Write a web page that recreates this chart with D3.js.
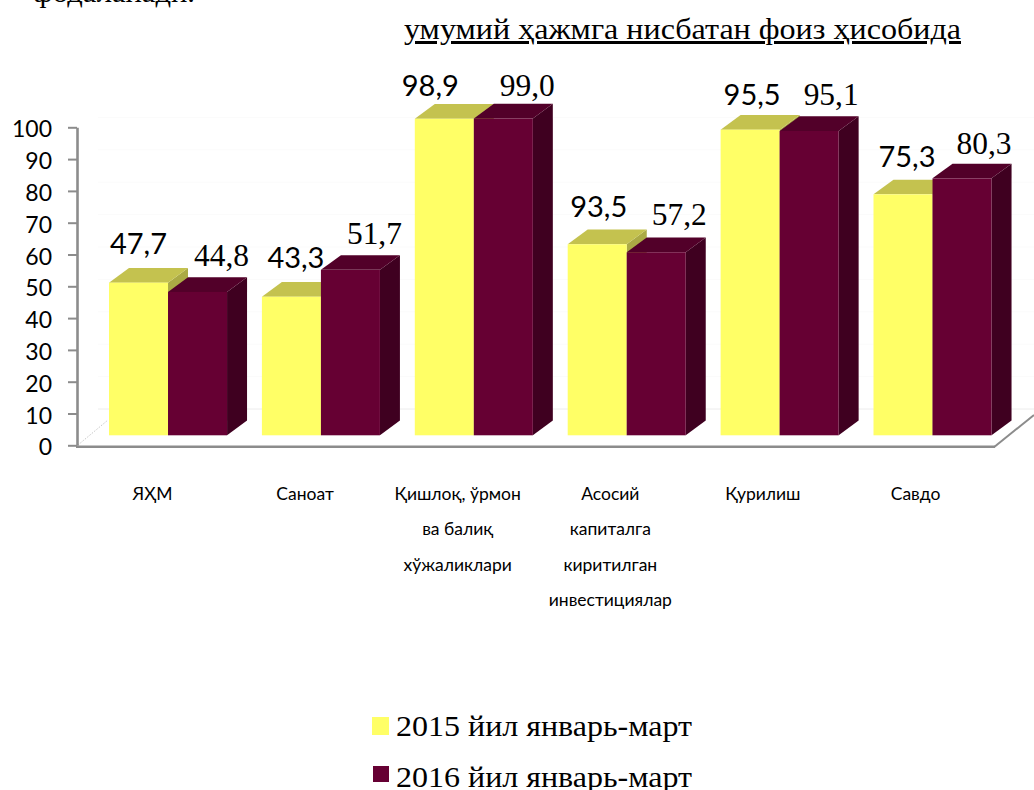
<!DOCTYPE html>
<html><head><meta charset="utf-8">
<script src="https://cdnjs.cloudflare.com/ajax/libs/d3/7.9.0/d3.min.js"></script>
<style>html,body{margin:0;padding:0;background:#fff;overflow:hidden}svg{display:block}</style>
</head><body><svg id="c" width="1034" height="790"></svg>
<script>
const categories = [["ЯҲМ"],["Саноат"],["Қишлоқ, ўрмон","ва балиқ","хўжаликлари"],["Асосий","капиталга","киритилган","инвестициялар"],["Қурилиш"],["Савдо"]];
const seriesNames = ["2015 йил январь-март","2016 йил январь-март"];
// bar heights as drawn
const values2015 = [47.7,43.3,98.9,59.7,95.5,75.3];
const values2016 = [44.8,51.7,99.0,57.2,95.1,80.3];
// printed labels (the fourth yellow bar is labelled 93,5 in the source)
const labels2015 = ["47,7","43,3","98,9","93,5","95,5","75,3"];
const labels2016 = ["44,8","51,7","99,0","57,2","95,1","80,3"];
const axisTicks = [0,10,20,30,40,50,60,70,80,90,100];
const gridTicks = [10,20,30,40,50,60,70,80,90,100];
const titleText = "умумий ҳажмга нисбатан фоиз ҳисобида";
const clippedText = "фодаланади.";

// layout
const nudge2015 = [[0,-29],[4.5,-29],[-14,-23],[1.5,-27],[2,-25],[4,-27]];
const nudge2016 = [[24,-26],[24,-26],[24,-23],[23,-27],[22,-26],[22,-24]];
const colors = {y:{front:"#FFFF66",top:"#C4C24F",side:"#ABAA45"},m:{front:"#660033",top:"#520029",side:"#3F0020"}};
const serif = "'Liberation Serif','Times New Roman',serif", sans = "Lato,'Noto Sans',sans-serif";
const depth = {x:20,y:-14.7};

const svg = d3.select("#c");
const x = d3.scaleBand().domain(d3.range(6)).range([91.57,1008.97]).paddingInner(.228).paddingOuter(.114);
const xs = d3.scaleBand().domain([0,1]).range([0,x.bandwidth()]);
const yBar = d3.scaleLinear().domain([0,100]).range([435.3,115.3]);
const yAxis = d3.scaleLinear().domain([0,100]).range([445.3,127.3]);
const yGrid = d3.scaleLinear().domain([0,100]).range([441.4,117.4]);

// back wall grid
svg.append("g").selectAll("line").data(gridTicks).join("line")
  .attr("x1",98).attr("x2",1034).attr("y1",d=>yGrid(d)).attr("y2",d=>yGrid(d))
  .attr("stroke",d=>d===10?"#ececec":"#fbfbfb").attr("stroke-width",1);
// floor
svg.append("path").attr("d",d3.line()([[78,445],[108,420]])).attr("stroke","#c8c8c8").attr("stroke-dasharray","1.5 1.5").attr("fill","none");
svg.append("path").attr("d",d3.line()([[994.5,446.7],[1034,415]])).attr("stroke","#8c8c8c").attr("stroke-width",2).attr("fill","none");
svg.append("line").attr("x1",76).attr("x2",995).attr("y1",446.7).attr("y2",446.7).attr("stroke","#8c8c8c").attr("stroke-width",2.6);
// value axis
const ax = svg.append("g").attr("transform","translate(77,0)")
  .call(d3.axisLeft(yAxis).tickValues(axisTicks).tickSize(9).tickPadding(16).tickSizeOuter(0));
ax.select(".domain").attr("stroke","#8c8c8c").attr("stroke-width",2.6);
ax.selectAll(".tick line").attr("stroke","#8c8c8c").attr("stroke-width",2);
ax.selectAll(".tick text").attr("font-family",sans).attr("font-size",23).attr("fill","#000").attr("dy","0.42em");

// bars
function bar(g,x0,w,v,c){
  const t=yBar(v),b=yBar(0),dx=depth.x,dy=depth.y;
  g.append("polygon").attr("points",[[x0+w,t],[x0+w+dx,t+dy],[x0+w+dx,b+dy],[x0+w,b]].join(" ")).attr("fill",c.side);
  g.append("polygon").attr("points",[[x0,t],[x0+dx,t+dy],[x0+w+dx,t+dy],[x0+w,t]].join(" ")).attr("fill",c.top);
  g.append("rect").attr("x",x0).attr("y",t).attr("width",w).attr("height",b-t).attr("fill",c.front);
}
const bars = svg.append("g");
categories.forEach((_,i)=>{
  const g=bars.append("g");
  bar(g,x(i)+xs(0),xs.bandwidth(),values2015[i],colors.y);
  bar(g,x(i)+xs(1),xs.bandwidth(),values2016[i],colors.m);
});
// value labels
const lab = svg.append("g").attr("text-anchor","middle").attr("fill","#000");
categories.forEach((_,i)=>{
  lab.append("text").attr("x",x(i)+xs(0)+xs.bandwidth()/2+nudge2015[i][0]).attr("y",yBar(values2015[i])+nudge2015[i][1])
    .attr("font-family",sans).attr("font-size",28).attr("textLength",57).attr("lengthAdjust","spacingAndGlyphs").text(labels2015[i]);
  lab.append("text").attr("x",x(i)+xs(1)+xs.bandwidth()/2+nudge2016[i][0]).attr("y",yBar(values2016[i])+nudge2016[i][1])
    .attr("font-family",serif).attr("font-size",32).attr("textLength",55).attr("lengthAdjust","spacingAndGlyphs").text(labels2016[i]);
});
// category labels
const catG = svg.append("g").attr("text-anchor","middle").attr("font-family",sans).attr("font-size",17.5).attr("fill","#000");
categories.forEach((lines,i)=>{
  lines.forEach((t,j)=>catG.append("text").attr("x",x(i)+x.bandwidth()/2-15.5-0.3*i).attr("y",500+j*35.4).text(t));
});
// title + clipped line
svg.append("text").attr("x",404).attr("y",39).attr("font-family",serif).attr("font-size",30).attr("textLength",557).attr("lengthAdjust","spacingAndGlyphs").attr("text-decoration","underline").attr("fill","#000").text(titleText);
svg.append("text").attr("x",33).attr("y",1.5).attr("font-family",serif).attr("font-size",30).attr("textLength",162).attr("lengthAdjust","spacingAndGlyphs").attr("fill","#000").text(clippedText);
// legend
const leg = svg.append("g");
[[colors.y.front,372,717,18,736],[colors.m.front,373,766,16,787]].forEach((l,i)=>{
  leg.append("rect").attr("x",l[1]).attr("y",l[2]).attr("width",l[3]-(i?0:1)).attr("height",l[3]).attr("fill",l[0]);
  leg.append("text").attr("x",396).attr("y",l[4]).attr("font-family",serif).attr("font-size",30).attr("textLength",296).attr("lengthAdjust","spacingAndGlyphs").attr("fill","#000").text(seriesNames[i]);
});
</script></body></html>
